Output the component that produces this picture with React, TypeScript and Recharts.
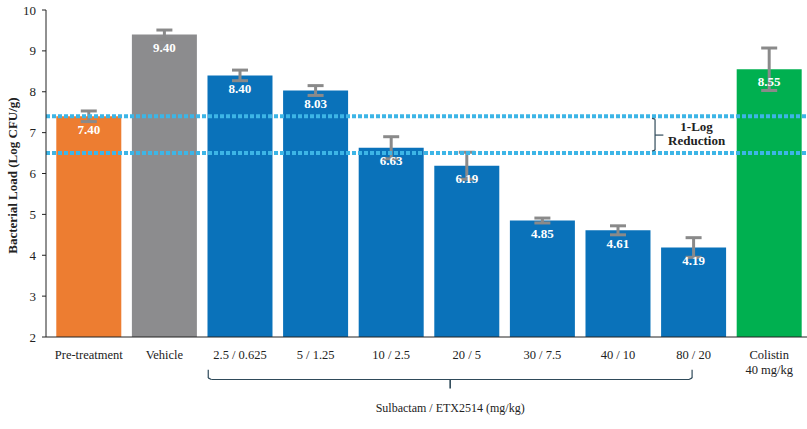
import { BarChart, Bar, XAxis, YAxis, Cell, ErrorBar, LabelList, ReferenceLine, ReferenceDot } from 'recharts';

const categories = ['Pre-treatment', 'Vehicle', '2.5 / 0.625', '5 / 1.25', '10 / 2.5', '20 / 5', '30 / 7.5', '40 / 10', '80 / 20', 'Colistin\n40 mg/kg'];
const loads = [7.4, 9.4, 8.4, 8.03, 6.63, 6.19, 4.85, 4.61, 4.19, 8.55];
const errors = [0.13, 0.11, 0.13, 0.12, 0.27, 0.33, 0.06, 0.11, 0.24, 0.52];
const colors = ['#ED7D31', '#8C8C8E', '#0A72BA', '#0A72BA', '#0A72BA', '#0A72BA', '#0A72BA', '#0A72BA', '#0A72BA', '#00B050'];
const yTicks = [2, 3, 4, 5, 6, 7, 8, 9, 10];
const logLines = [7.4, 6.5];

const data = categories.map((name, i) => ({ name, load: loads[i], err: errors[i], idx: i }));

const FONT = "'Liberation Serif', 'DejaVu Serif', serif";
const BRACE = '#2f4a5a';
const txt = { fontFamily: FONT, fontSize: 12.5, fill: '#222' };
const bold = { ...txt, fontSize: 13, fontWeight: 'bold' as const };

function XTick(props: any) {
  const { x, y, payload } = props;
  const lines = String(payload.value).split('\n');
  return (
    <text x={x} y={y + 4} textAnchor="middle" fontFamily={FONT} fontSize={12.5} fill="#222">
      {lines.map((l, i) => (
        <tspan key={i} x={x} dy={i === 0 ? 10 : 15}>{l}</tspan>
      ))}
    </text>
  );
}

export default function App() {
  return (
    <div style={{ position: 'absolute', left: 0, top: 0, width: 807, height: 429, background: '#fff', fontFamily: FONT }}>
      <BarChart
        width={807}
        height={429}
        data={data}
        margin={{ top: 10, right: 0, bottom: 62, left: 0 }}
        barCategoryGap="7%"
      >
        <XAxis
          dataKey="name"
          height={30}
          padding={{ left: 5, right: 0 }}
          tickLine={false}
          tick={<XTick />}
          interval={0}
          stroke="#222"
        />
        <XAxis
          xAxisId="n"
          dataKey="idx"
          type="number"
          domain={[0, 10]}
          allowDataOverflow
          hide
          padding={{ left: 5, right: 0 }}
        />
        <YAxis
          domain={[2, 10]}
          ticks={yTicks}
          width={46}
          tickSize={4}
          tickMargin={6}
          stroke="#222"
          tick={{ ...txt, fontSize: 13 }}
          label={{
            value: 'Bacterial Load (Log CFU/g)',
            angle: -90,
            position: 'insideLeft',
            offset: 0,
            dx: 12,
            dy: 2,
            style: { ...bold, textAnchor: 'middle' },
          }}
        />
        <Bar dataKey="load" isAnimationActive={false}>
          {data.map((d, i) => (
            <Cell key={d.name} fill={colors[i]} />
          ))}
          <LabelList
            dataKey="load"
            position="insideTop"
            offset={8}
            formatter={(v: any) => Number(v).toFixed(2)}
            style={{ ...bold, fill: '#fff' }}
          />
          <ErrorBar dataKey="err" width={8} stroke="#8a8a8a" strokeWidth={3} />
        </Bar>
        {logLines.map((v) => (
          <ReferenceLine key={v} y={v} stroke="#3DB5E6" strokeWidth={4} strokeDasharray="4 2" />
        ))}
        {/* 1-log bracket */}
        <ReferenceLine xAxisId="n" ifOverflow="visible" stroke={BRACE} strokeWidth={1.2}
          segment={[{ x: 7.95, y: 7.35 }, { x: 7.99, y: 7.33 }]} />
        <ReferenceLine xAxisId="n" ifOverflow="visible" stroke={BRACE} strokeWidth={1.2}
          segment={[{ x: 7.99, y: 7.33 }, { x: 7.99, y: 6.57 }]} />
        <ReferenceLine xAxisId="n" ifOverflow="visible" stroke={BRACE} strokeWidth={1.2}
          segment={[{ x: 7.99, y: 6.57 }, { x: 7.95, y: 6.55 }]} />
        <ReferenceLine xAxisId="n" ifOverflow="visible" stroke={BRACE} strokeWidth={1.2}
          segment={[{ x: 7.99, y: 6.94 }, { x: 8.1, y: 6.94 }]} />
        <ReferenceDot xAxisId="n" x={8.54} y={7.16} r={0} ifOverflow="visible"
          label={{ value: '1-Log', position: 'center', style: bold }} />
        <ReferenceDot xAxisId="n" x={8.54} y={6.8} r={0} ifOverflow="visible"
          label={{ value: 'Reduction', position: 'center', style: bold }} />
        {/* group brace under x axis */}
        <ReferenceLine xAxisId="n" ifOverflow="visible" stroke={BRACE} strokeWidth={1.2}
          segment={[{ x: 2.08, y: 1.2 }, { x: 2.08, y: 1.0 }]} />
        <ReferenceLine xAxisId="n" ifOverflow="visible" stroke={BRACE} strokeWidth={1.2}
          segment={[{ x: 2.08, y: 1.0 }, { x: 2.12, y: 0.96 }]} />
        <ReferenceLine xAxisId="n" ifOverflow="visible" stroke={BRACE} strokeWidth={1.2}
          segment={[{ x: 2.12, y: 0.96 }, { x: 8.44, y: 0.96 }]} />
        <ReferenceLine xAxisId="n" ifOverflow="visible" stroke={BRACE} strokeWidth={1.2}
          segment={[{ x: 8.44, y: 0.96 }, { x: 8.48, y: 1.0 }]} />
        <ReferenceLine xAxisId="n" ifOverflow="visible" stroke={BRACE} strokeWidth={1.2}
          segment={[{ x: 8.48, y: 1.0 }, { x: 8.48, y: 1.2 }]} />
        <ReferenceLine xAxisId="n" ifOverflow="visible" stroke={BRACE} strokeWidth={1.6}
          segment={[{ x: 5.28, y: 0.96 }, { x: 5.28, y: 0.74 }]} />
        <ReferenceDot xAxisId="n" x={5.28} y={0.26} r={0} ifOverflow="visible"
          label={{ value: 'Sulbactam / ETX2514 (mg/kg)', position: 'center', style: { ...txt, fontSize: 12 } }} />
      </BarChart>
    </div>
  );
}
